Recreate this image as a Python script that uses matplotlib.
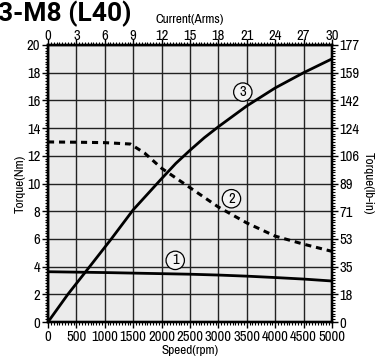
import matplotlib
matplotlib.use("Agg")
import matplotlib.pyplot as plt
from matplotlib import font_manager
from matplotlib.ticker import MultipleLocator, FixedLocator

# Speed axis (rpm) and the three torque curves (Nm)
speed_1 = [0, 1000, 2000, 2500, 3000, 3500, 4000, 4500, 5000]
torque_1 = [3.63, 3.57, 3.49, 3.45, 3.39, 3.31, 3.21, 3.10, 2.96]

speed_2 = [0, 500, 1000, 1450, 1700, 2000, 2500, 3000, 3500, 4000, 4500, 5000]
torque_2 = [13.0, 12.98, 12.95, 12.85, 12.2, 11.1, 9.7, 8.3, 7.15, 6.2, 5.62, 5.1]

speed_3 = [0, 350, 734, 1115, 1500, 1800, 2000, 2250, 2500, 2750, 3000, 3500, 4000, 4500, 5000]
torque_3 = [0, 2.0, 4.0, 6.0, 8.1, 9.45, 10.35, 11.45, 12.4, 13.3, 14.1, 15.6, 16.9, 18.0, 19.0]

# Secondary scales
current_ticks = [0, 3, 6, 9, 12, 15, 18, 21, 24, 27, 30]
torque_nm_ticks = [0, 2, 4, 6, 8, 10, 12, 14, 16, 18, 20]
torque_lbin_labels = ["0", "18", "35", "53", "71", "89", "106", "124", "142", "159", "177"]
speed_ticks = [0, 500, 1000, 1500, 2000, 2500, 3000, 3500, 4000, 4500, 5000]

# Curve annotations: (label, speed, torque)
curve_labels = [("1", 2240, 4.45), ("2", 3230, 8.9), ("3", 3430, 16.6)]

# Prefer a narrow face for the axis text
installed = {f.name for f in font_manager.fontManager.ttflist}
narrow = [n for n in sorted(installed) if "Narrow" in n or "Condensed" in n]
FONT = narrow[0] if narrow else "Roboto"
plt.rcParams["font.family"] = [FONT, "DejaVu Sans"]

fig = plt.figure(figsize=(3.78, 3.6), dpi=100)
ax = fig.add_axes([48 / 378, 1 - 322 / 360, 284 / 378, 277 / 360])
ax.set_facecolor("#ebebeb")

ax.set_xlim(0, 5000)
ax.set_ylim(0, 20)
ax.set_xticks(speed_ticks)
ax.set_yticks(torque_nm_ticks)
ax.xaxis.set_minor_locator(MultipleLocator(50))
ax.yaxis.set_minor_locator(MultipleLocator(0.2))
ax.grid(True, which="major", color="#222222", linewidth=1.0)
ax.set_axisbelow(True)

for s in ax.spines.values():
    s.set_linewidth(1.6)
    s.set_color("black")

tick_kw = dict(labelsize=10.5, colors="black")
ax.tick_params(which="major", direction="out", length=4, width=1, pad=1.5, **tick_kw)
ax.tick_params(which="minor", direction="out", length=2.2, width=0.8)

ax.plot(speed_1, torque_1, color="black", lw=2.0, solid_capstyle="butt", zorder=3)
ax.plot(speed_2, torque_2, color="black", lw=2.2, linestyle=(0, (2.0, 1.6)), zorder=3)
ax.plot(speed_3, torque_3, color="black", lw=2.0, solid_capstyle="butt",
        solid_joinstyle="round", zorder=3)

for txt, sx, ty in curve_labels:
    ax.text(sx, ty, txt, ha="center", va="center", fontsize=10.5, zorder=4,
            bbox=dict(boxstyle="circle,pad=0.15", fc="#f4f4f4", ec="black", lw=0.9))

ax.set_xlabel("Speed(rpm)", fontsize=9.5, labelpad=1)
ax.set_ylabel("Torque(Nm)", fontsize=9.5, labelpad=1)

# Top axis: current
axt = ax.twiny()
axt.set_xlim(0, 30)
axt.xaxis.set_major_locator(FixedLocator(current_ticks))
axt.xaxis.set_minor_locator(MultipleLocator(0.3))
axt.tick_params(which="major", direction="out", length=4, width=1, pad=-2.5, **tick_kw)
axt.tick_params(which="minor", direction="out", length=2.2, width=0.8)
axt.set_xlabel("Current(Arms)", fontsize=9.5, labelpad=4)

# Right axis: torque in lb-in
axr = ax.twinx()
axr.set_ylim(0, 20)
axr.set_yticks(torque_nm_ticks)
axr.set_yticklabels(torque_lbin_labels)
axr.yaxis.set_minor_locator(MultipleLocator(0.2))
axr.tick_params(which="major", direction="out", length=4, width=1, pad=1.5, **tick_kw)
axr.tick_params(which="minor", direction="out", length=2.2, width=0.8)
axr.set_ylabel("Torque(lb-in)", fontsize=9.5, rotation=-90, labelpad=10)

for a in (axt, axr):
    for s in a.spines.values():
        s.set_linewidth(1.6)

fig.text(131 / 378, 1 - 21 / 360, "3-M8 (L40)", ha="right", va="baseline",
         fontsize=19, fontweight="bold", family=["Roboto", "DejaVu Sans"])

fig.savefig("out.png", dpi=100)
